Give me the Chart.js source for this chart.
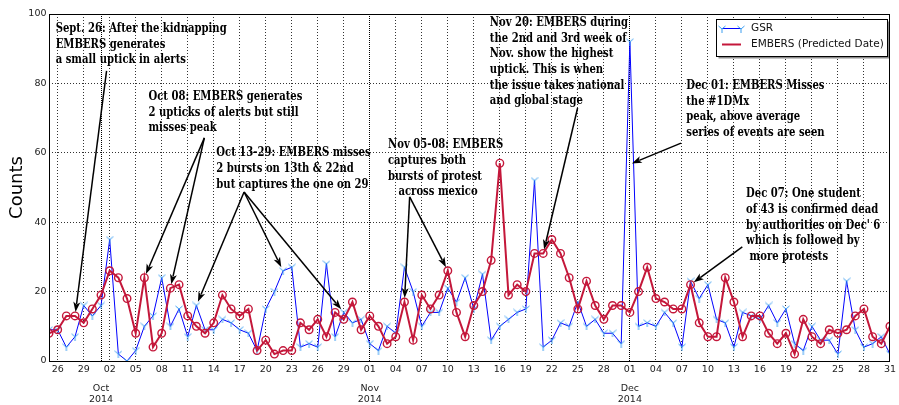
<!DOCTYPE html>
<html>
<head>
<meta charset="utf-8">
<script src="https://cdn.jsdelivr.net/npm/chart.js@4.4.0/dist/chart.umd.min.js"></script>
<style>
  html, body { margin: 0; padding: 0; background: #fff; }
</style>
</head>
<body>
<canvas id="myChart" width="899" height="405"></canvas>
<script>
// daily counts from 2014-09-25 to 2014-12-31
var firstDay = [2014, 8, 25];
var gsr = [9, 9, 4, 7, 16, 13, 16, 35, 2, 0,
           3, 10, 13, 24, 10, 15, 7, 16, 9, 9,
           12, 11, 9, 8, 3, 15, 20, 26, 27, 4,
           5, 4, 28, 7, 14, 11, 12, 5, 3, 10,
           8, 27, 20, 10, 14, 14, 21, 17, 24, 15,
           25, 6, 10, 12, 14, 15, 52, 4, 6, 11,
           10, 17, 10, 12, 8, 8, 5, 92, 10, 11,
           10, 14, 11, 4, 23, 18, 22, 12, 11, 4,
           14, 13, 12, 16, 11, 15, 5, 3, 10, 6,
           6, 2, 23, 9, 4, 5, 7, 2];
var embers = [8, 9, 13, 13, 11, 15, 19, 26, 24, 18,
              8, 24, 4, 8, 21, 22, 13, 10, 8, 11,
              19, 15, 13, 15, 3, 6, 2, 3, 3, 11,
              9, 12, 7, 14, 12, 17, 9, 13, 10, 5,
              7, 17, 6, 19, 15, 19, 26, 14, 7, 16,
              20, 29, 57, 19, 22, 20, 31, 31, 35, 31,
              24, 15, 23, 16, 12, 16, 16, 14, 20, 27,
              18, 17, 15, 15, 22, 11, 7, 7, 24, 17,
              7, 13, 13, 8, 5, 8, 2, 12, 7, 5,
              9, 8, 9, 13, 15, 7, 5, 10];
var yTicks = [0, 20, 40, 60, 80, 100];
var monthNames = ['Jan', 'Feb', 'Mar', 'Apr', 'May', 'Jun', 'Jul', 'Aug', 'Sep', 'Oct', 'Nov', 'Dec'];
var seriesNames = ['GSR', 'EMBERS (Predicted Date)'];

// notes: text anchor and arrow start in data units (day index, count)
var notes = [
    { x: 0.77, y: 95.7, lines: ['Sept. 26: After the kidnapping', 'EMBERS generates', 'a small uptick in alerts'],
      from: [6.64, 83.6], to: [{ s: 'embers', i: 3 }] },
    { x: 11.47, y: 76.1, lines: ['Oct 08: EMBERS generates', '2 upticks of alerts but still', 'misses peak'],
      from: [17.92, 64.3], to: [{ s: 'embers', i: 11 }, { s: 'embers', i: 14 }] },
    { x: 19.3, y: 59.9, lines: ['Oct 13-29: EMBERS misses', '2 bursts on 13th & 22nd', 'but captures the one on 29'],
      from: [22.5, 48.7], to: [{ s: 'gsr', i: 17 }, { s: 'gsr', i: 27 }, { s: 'gsr', i: 34 }] },
    { x: 39.1, y: 62.2, lines: ['Nov 05-08: EMBERS', 'captures both', 'bursts of protest', '   across mexico'],
      from: [41.6, 47.3], to: [{ s: 'embers', i: 41 }, { s: 'embers', i: 46 }] },
    { x: 50.85, y: 97.4, lines: ['Nov 20: EMBERS during', 'the 2nd and 3rd week of', 'Nov. show the highest', 'uptick. This is when', 'the issue takes national', 'and global stage'],
      from: [60.97, 72.9], to: [{ s: 'embers', i: 57 }] },
    { x: 73.5, y: 79.25, lines: ['Dec 01: EMBERS Misses', 'the #1DMx', 'peak, above average', 'series of events are seen'],
      from: [72.9, 62.8], to: [{ x: 66.8, y: 56.5 }] },
    { x: 80.4, y: 48.1, lines: ['Dec 07: One student', 'of 43 is confirmed dead', "by authorities on Dec' 6", 'which is followed by', ' more protests'],
      from: [79.97, 32.9], to: [{ s: 'embers', i: 74 }] }
];

var dates = [];
for (var d = 0; d < gsr.length; d++) {
    dates.push(new Date(firstDay[0], firstDay[1], firstDay[2] + d));
}
var xTicks = [];
dates.forEach(function (dt, i) {
    if ((i - 1) % 3 === 0 || dt.getDate() === 1) xTicks.push(i);
});
function pad2(n) { return (n < 10 ? '0' : '') + n; }
function isMonthStart(i) { return dates[i] && dates[i].getDate() === 1; }

var sansFont = "'DejaVu Sans', sans-serif";
var serifFont = "'DejaVu Serif', serif";
var gsrColor = '#0000ff';
var gsrMarkColor = '#3a9df0';
var embersColor = '#c4173a';

// tri_down marker like matplotlib
var triMark = document.createElement('canvas');
triMark.width = 8; triMark.height = 8;
(function () {
    var c = triMark.getContext('2d');
    c.strokeStyle = gsrMarkColor; c.lineWidth = 1;
    c.beginPath();
    c.moveTo(4, 4); c.lineTo(4, 8);
    c.moveTo(4, 4); c.lineTo(0.5, 1);
    c.moveTo(4, 4); c.lineTo(7.5, 1);
    c.stroke();
})();

function arrow(ctx, x0, y0, x1, y1) {
    var a = Math.atan2(y1 - y0, x1 - x0);
    var ex = x1 - Math.cos(a) * 4, ey = y1 - Math.sin(a) * 4;
    var hl = 10, hw = 3.5;
    var bx = ex - Math.cos(a) * hl, by = ey - Math.sin(a) * hl;
    ctx.beginPath(); ctx.moveTo(x0, y0); ctx.lineTo(bx + Math.cos(a) * 2, by + Math.sin(a) * 2); ctx.stroke();
    ctx.beginPath(); ctx.moveTo(ex, ey);
    ctx.lineTo(bx + Math.sin(a) * hw, by - Math.cos(a) * hw);
    ctx.lineTo(bx + Math.cos(a) * 2.5, by + Math.sin(a) * 2.5);
    ctx.lineTo(bx - Math.sin(a) * hw, by + Math.cos(a) * hw);
    ctx.closePath(); ctx.fill();
}

var extras = {
    id: 'extras',
    afterDraw: function (chart) {
        var ctx = chart.ctx, xs = chart.scales.x, ys = chart.scales.y, area = chart.chartArea;
        ctx.save();
        // frame
        ctx.strokeStyle = '#000'; ctx.lineWidth = 1;
        ctx.strokeRect(Math.round(area.left) + 0.5, Math.round(area.top) + 0.5,
            Math.round(area.right - area.left) - 1, Math.round(area.bottom - area.top));

        // month / year under the axis
        ctx.fillStyle = '#222'; ctx.font = '9.5px ' + sansFont;
        ctx.textAlign = 'center'; ctx.textBaseline = 'middle';
        dates.forEach(function (dt, i) {
            if (dt.getDate() !== 1) return;
            var px = xs.getPixelForValue(i);
            ctx.fillText(monthNames[dt.getMonth()], px, 389);
            ctx.fillText(String(dt.getFullYear()), px, 400);
        });

        // notes with arrows; a slightly squeezed bold serif like the original
        if ('fontStretch' in ctx) ctx.fontStretch = 'condensed';
        ctx.font = 'bold 12.5px ' + serifFont;
        var squeeze = Math.min(1, 171 / ctx.measureText(notes[0].lines[0]).width);
        ctx.fillStyle = '#000'; ctx.strokeStyle = '#000';
        ctx.textAlign = 'left'; ctx.lineWidth = 1.5;
        var series = { gsr: gsr, embers: embers };
        notes.forEach(function (n) {
            var tx = xs.getPixelForValue(n.x), ty = ys.getPixelForValue(n.y);
            ctx.save();
            ctx.translate(tx, ty);
            ctx.scale(squeeze, 1);
            n.lines.forEach(function (line, k) { ctx.fillText(line, 0, k * 15.6); });
            ctx.restore();
            var fx = xs.getPixelForValue(n.from[0]), fy = ys.getPixelForValue(n.from[1]);
            n.to.forEach(function (t) {
                var px, py;
                if (t.s) { px = xs.getPixelForValue(t.i); py = ys.getPixelForValue(series[t.s][t.i]); }
                else { px = xs.getPixelForValue(t.x); py = ys.getPixelForValue(t.y); }
                arrow(ctx, fx, fy, px, py);
            });
        });
        if ('fontStretch' in ctx) ctx.fontStretch = 'normal';

        // legend box
        var lx = 716.5, ly = 19.5, lw = 171, lh = 37;
        ctx.fillStyle = 'rgba(0,0,0,0.45)';
        ctx.fillRect(lx + 2, ly + 2, lw, lh);
        ctx.fillStyle = '#fff'; ctx.fillRect(lx, ly, lw, lh);
        ctx.strokeStyle = '#000'; ctx.lineWidth = 1; ctx.strokeRect(lx, ly, lw, lh);
        ctx.strokeStyle = gsrColor; ctx.lineWidth = 1;
        ctx.beginPath(); ctx.moveTo(722, 28.5); ctx.lineTo(741, 28.5); ctx.stroke();
        ctx.drawImage(triMark, 718, 25); ctx.drawImage(triMark, 737, 25);
        ctx.strokeStyle = embersColor; ctx.lineWidth = 2;
        ctx.beginPath(); ctx.moveTo(722, 44.5); ctx.lineTo(741, 44.5); ctx.stroke();
        ctx.fillStyle = '#111'; ctx.font = '10.5px ' + sansFont;
        ctx.textBaseline = 'middle';
        ctx.fillText(seriesNames[0], 751, 28.5);
        ctx.fillText(seriesNames[1], 751, 44.5);
        ctx.restore();
    }
};

function gridDash(ctx) {
    return ctx.tick && isMonthStart(ctx.tick.value) ? [1, 1] : [1, 2];
}

new Chart(document.getElementById('myChart'), {
    type: 'line',
    data: {
        datasets: [{
            label: seriesNames[0],
            data: gsr.map(function (v, i) { return { x: i, y: v }; }),
            borderColor: gsrColor,
            borderWidth: 1,
            pointStyle: triMark,
            pointRadius: 3,
            tension: 0,
            order: 1
        }, {
            label: seriesNames[1],
            data: embers.map(function (v, i) { return { x: i, y: v }; }),
            borderColor: embersColor,
            borderWidth: 2,
            pointStyle: 'circle',
            pointRadius: 3.8,
            pointBorderWidth: 1.4,
            pointBorderColor: embersColor,
            pointBackgroundColor: 'rgba(0,0,0,0)',
            tension: 0,
            order: 0
        }]
    },
    options: {
        responsive: false,
        animation: false,
        layout: { padding: { left: 0, right: 5, top: 14, bottom: 0 } },
        plugins: { legend: { display: false }, tooltip: { enabled: false } },
        scales: {
            x: {
                type: 'linear',
                min: 0,
                max: gsr.length - 1,
                afterBuildTicks: function (scale) {
                    scale.ticks = xTicks.map(function (v) { return { value: v }; });
                },
                afterFit: function (scale) { scale.height = 44; },
                ticks: {
                    autoSkip: false,
                    maxRotation: 0,
                    padding: 3,
                    color: '#222',
                    font: { family: sansFont, size: 9.5 },
                    callback: function (value) {
                        var i = Math.round(value);
                        if ((i - 1) % 3 !== 0) return '';
                        return pad2(dates[i].getDate());
                    }
                },
                grid: {
                    drawTicks: false,
                    color: function (ctx) { return ctx.tick && isMonthStart(ctx.tick.value) ? '#000' : '#333'; },
                    lineWidth: 1
                },
                border: { display: false, dash: gridDash }
            },
            y: {
                min: 0,
                max: 100,
                afterBuildTicks: function (scale) {
                    scale.ticks = yTicks.map(function (v) { return { value: v }; });
                },
                afterFit: function (scale) { scale.width = 49; },
                ticks: {
                    padding: 2.5,
                    color: '#222',
                    font: { family: sansFont, size: 9.5 }
                },
                grid: { drawTicks: false, color: '#333', lineWidth: 1 },
                border: { display: false, dash: [1, 2] },
                title: {
                    display: true,
                    text: 'Counts',
                    color: '#000',
                    font: { family: sansFont, size: 18 },
                    padding: { top: 7, bottom: 0 }
                }
            }
        }
    },
    plugins: [extras]
});
</script>
</body>
</html>
